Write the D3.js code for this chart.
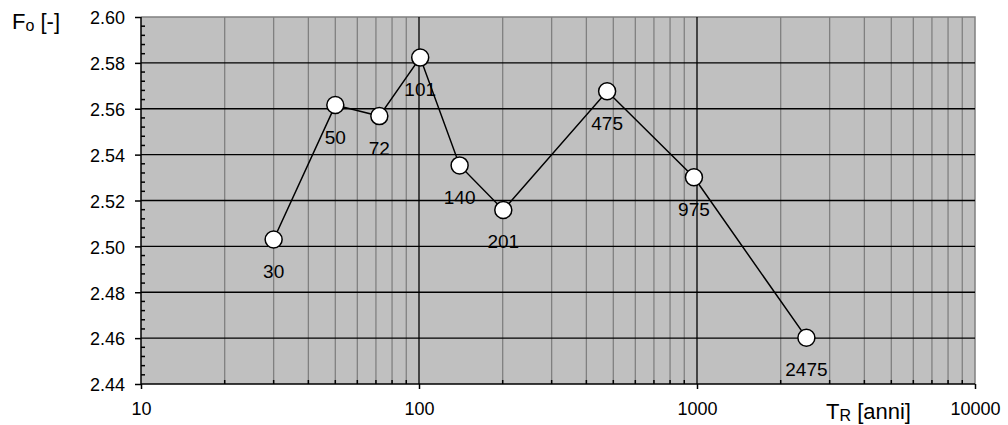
<!DOCTYPE html>
<html>
<head>
<meta charset="utf-8">
<script src="https://cdn.jsdelivr.net/npm/d3@7"></script>
<style>
  body { margin: 0; background: #fff; }
  text { font-family: "Liberation Sans", Arial, sans-serif; fill: #000; }
</style>
</head>
<body>
<script>
// return periods T_R and factor F_o
const periods = [30, 50, 72, 101, 140, 201, 475, 975, 2475];
const foValues = [2.503, 2.5616, 2.5568, 2.5823, 2.5353, 2.5159, 2.5676, 2.5301, 2.4602];
const pointLabels = ['30', '50', '72', '101', '140', '201', '475', '975', '2475'];
const yTicks = [2.44, 2.46, 2.48, 2.50, 2.52, 2.54, 2.56, 2.58, 2.60];
const xTicks = [10, 100, 1000, 10000];

const w = 1008, h = 425;
const pLeft = 141, pRight = 975, pTop = 17, pBottom = 384;

const x = d3.scaleLog().domain([10, 10000]).range([pLeft, pRight]);
const y = d3.scaleLinear().domain([2.44, 2.60]).range([pBottom, pTop]);

const svg = d3.select('body').append('svg')
  .attr('width', w)
  .attr('height', h);

// plot background
svg.append('rect')
  .attr('x', pLeft).attr('y', pTop)
  .attr('width', pRight - pLeft).attr('height', pBottom - pTop)
  .attr('fill', '#c0c0c0');

// minor vertical grid (2..9 of each decade)
const xMinor = [];
[10, 100, 1000].forEach(dec => {
  for (let k = 2; k <= 9; k++) xMinor.push(dec * k);
});

svg.append('g').selectAll('line')
  .data(xMinor)
  .enter().append('line')
  .attr('x1', d => x(d)).attr('x2', d => x(d))
  .attr('y1', pTop).attr('y2', pBottom)
  .attr('stroke', '#808080')
  .attr('stroke-width', 1.3);

// plot border top / right
svg.append('path')
  .attr('d', `M${pLeft},${pTop}H${pRight}V${pBottom}`)
  .attr('fill', 'none')
  .attr('stroke', '#808080')
  .attr('stroke-width', 1.5);

// major grid
svg.append('g').selectAll('line')
  .data(yTicks.slice(1, -1))
  .enter().append('line')
  .attr('x1', pLeft).attr('x2', pRight)
  .attr('y1', d => y(d)).attr('y2', d => y(d))
  .attr('stroke', '#000')
  .attr('stroke-width', 1.3);

svg.append('g').selectAll('line')
  .data(xTicks.slice(1, -1))
  .enter().append('line')
  .attr('x1', d => x(d)).attr('x2', d => x(d))
  .attr('y1', pTop).attr('y2', pBottom)
  .attr('stroke', '#000')
  .attr('stroke-width', 1.3);

// axes
const yAxis = d3.axisLeft(y)
  .tickValues(yTicks)
  .tickSize(6)
  .tickPadding(10)
  .tickFormat(d3.format('.2f'));

const xAxis = d3.axisBottom(x)
  .tickValues(xTicks)
  .tickSize(5)
  .tickPadding(13)
  .tickFormat(d3.format('d'));

const gy = svg.append('g')
  .attr('transform', `translate(${pLeft},0)`)
  .call(yAxis);

const gx = svg.append('g')
  .attr('transform', `translate(0,${pBottom})`)
  .call(xAxis);

[gy, gx].forEach(g => {
  g.select('.domain').remove();
  g.selectAll('.tick line').attr('stroke', '#000').attr('stroke-width', 1.5);
  g.selectAll('.tick text').attr('fill', '#000').style('font-family', '"Liberation Sans", Arial, sans-serif');
});
gy.selectAll('.tick text').attr('font-size', 18).attr('dy', '0.38em');
gx.selectAll('.tick text').attr('font-size', 18);

// minor ticks, inside
const yMinor = d3.range(0, 40).map(i => 2.44 + i * 0.004).filter((d, i) => i % 5 !== 0);
svg.append('g').selectAll('line')
  .data(yMinor)
  .enter().append('line')
  .attr('x1', pLeft).attr('x2', pLeft + 4)
  .attr('y1', d => y(d)).attr('y2', d => y(d))
  .attr('stroke', '#000').attr('stroke-width', 1.5);

svg.append('g').selectAll('line')
  .data(xMinor)
  .enter().append('line')
  .attr('x1', d => x(d)).attr('x2', d => x(d))
  .attr('y1', pBottom).attr('y2', pBottom - 4)
  .attr('stroke', '#000').attr('stroke-width', 1.5);

// axis lines
svg.append('path')
  .attr('d', `M${pLeft},${pTop}V${pBottom}H${pRight}`)
  .attr('fill', 'none')
  .attr('stroke', '#000')
  .attr('stroke-width', 1.5);

// series
const pts = periods.map((p, i) => ({ p: p, v: foValues[i], label: pointLabels[i] }));

svg.append('path')
  .datum(pts)
  .attr('fill', 'none')
  .attr('stroke', '#000')
  .attr('stroke-width', 1.5)
  .attr('d', d3.line().x(d => x(d.p)).y(d => y(d.v)));

svg.append('g').selectAll('circle')
  .data(pts)
  .enter().append('circle')
  .attr('cx', d => x(d.p))
  .attr('cy', d => y(d.v))
  .attr('r', 8.5)
  .attr('fill', '#fff')
  .attr('stroke', '#000')
  .attr('stroke-width', 1.5);

svg.append('g').selectAll('text')
  .data(pts)
  .enter().append('text')
  .attr('x', d => x(d.p))
  .attr('y', d => y(d.v) + 38.5)
  .attr('text-anchor', 'middle')
  .attr('font-size', 19)
  .attr('fill', '#1a1a1a')
  .text(d => d.label);

// axis titles
const fo = svg.append('text')
  .attr('x', 12)
  .attr('y', 29)
  .attr('font-size', 22);
fo.append('tspan').text('F');
fo.append('tspan').attr('font-size', 16).attr('dy', 2).text('o');
fo.append('tspan').attr('dy', -2).text(' [-]');

const tr = svg.append('text')
  .attr('x', 826)
  .attr('y', 419)
  .attr('font-size', 22);
tr.append('tspan').text('T');
tr.append('tspan').attr('font-size', 16).attr('dy', 2).text('R');
tr.append('tspan').attr('dy', -2).text(' [anni]');
</script>
</body>
</html>
